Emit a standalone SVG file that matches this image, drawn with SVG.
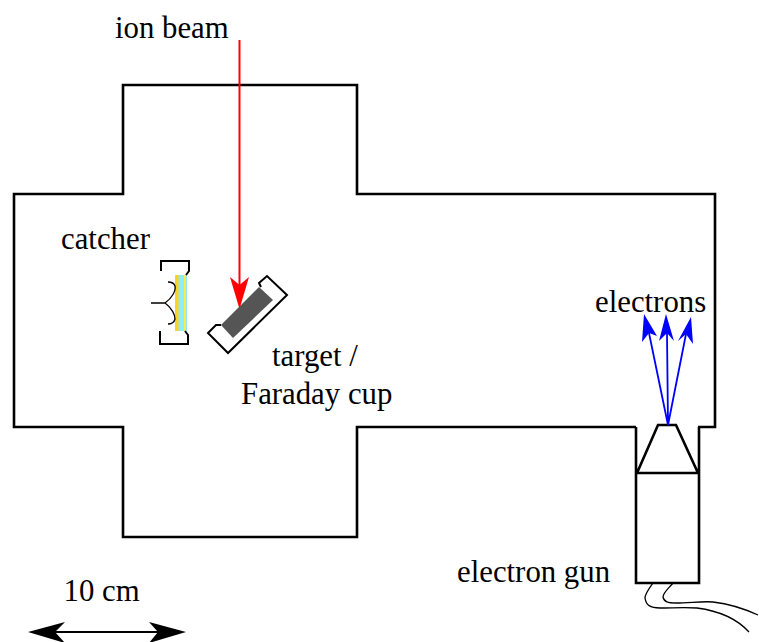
<svg xmlns="http://www.w3.org/2000/svg" width="759" height="642" viewBox="0 0 759 642">
<style>
.l{fill:none;stroke:#000;stroke-width:2.6;stroke-linejoin:miter}
.m{fill:none;stroke:#000;stroke-width:2}
.t{fill:none;stroke:#000;stroke-width:1.3}
.b{fill:none;stroke:#00f;stroke-width:1.8}
text{font-family:"Liberation Serif",serif;font-size:30.8px;fill:#000}
</style>
<rect width="759" height="642" fill="#fff"/>
<g id="chamber"><path class="l" d="M636 427H357V537H123V427H14V194H123V85H357V194H715V427H698"/></g>
<g id="catcher">
<rect x="175" y="275" width="12" height="56" fill="#8fecf0"/>
<rect x="175" y="275" width="3.500" height="56" fill="#ffd21e"/>
<rect x="184" y="275" width="2" height="56" fill="#ffe94a"/>
<path class="m" d="M161 271V261H189V271L186 275M185 331L188 335V344H160V331"/>
<path class="t" d="M151 303H165M165 303C172 298 176 291 175 286C174 283 171 282 168 282M165 303C172 308 175 315 175 319C174 323 171 324 168 324"/>
</g>
<g id="target">
<path class="m" d="M221 325L216 325L208 333L228 353L287 295L267 276L259 283L261 287"/>
<polygon points="221,325 259,287 273,300 233,338" fill="#555"/>
</g>
<g id="gun">
<path class="l" d="M636 427V583H699V427M637 473H698M637 473L658 425H676L698 473"/>
<path class="t" d="M653 583C648 590 645 594 645 598C646 605 650 608 660 608C672 608 685 607 697 608C720 611 738 620 749 632"/>
<path class="t" d="M673 583C668 589 663 593 663 597C664 602 668 603 676 603C690 603 702 601 713 602C730 604 745 609 758 615"/>
</g>
<g id="labels">
<text x="115" y="38">ion beam</text>
<text x="61" y="249">catcher</text>
<text x="272" y="366">target /</text>
<text x="241" y="404">Faraday cup</text>
<text x="595" y="312">electrons</text>
<text x="457" y="582">electron gun</text>
<text x="63.500" y="601">10 cm</text>
</g>
<g id="connectors">
<path d="M239.500 40V290" stroke="#f00" stroke-width="2" fill="none"/>
<polygon points="230,277 239.500,285 249,277 239.500,309" fill="#f00"/>
<path class="b" d="M668 425L649 333M668 425L667 333M668 425L686 334"/>
<polygon points="644,314 657,336 649,333 642,342" fill="#00f"/>
<polygon points="666,314 674,341 667,333 659,341" fill="#00f"/>
<polygon points="691,317 693,344 686,334 678,341" fill="#00f"/>
<path d="M50 632H165" stroke="#000" stroke-width="2" fill="none"/>
<polygon points="28,632 65,622 55,632 65,643" fill="#000"/>
<polygon points="186,632 149,622 158,632 149,643" fill="#000"/>
</g>
</svg>
